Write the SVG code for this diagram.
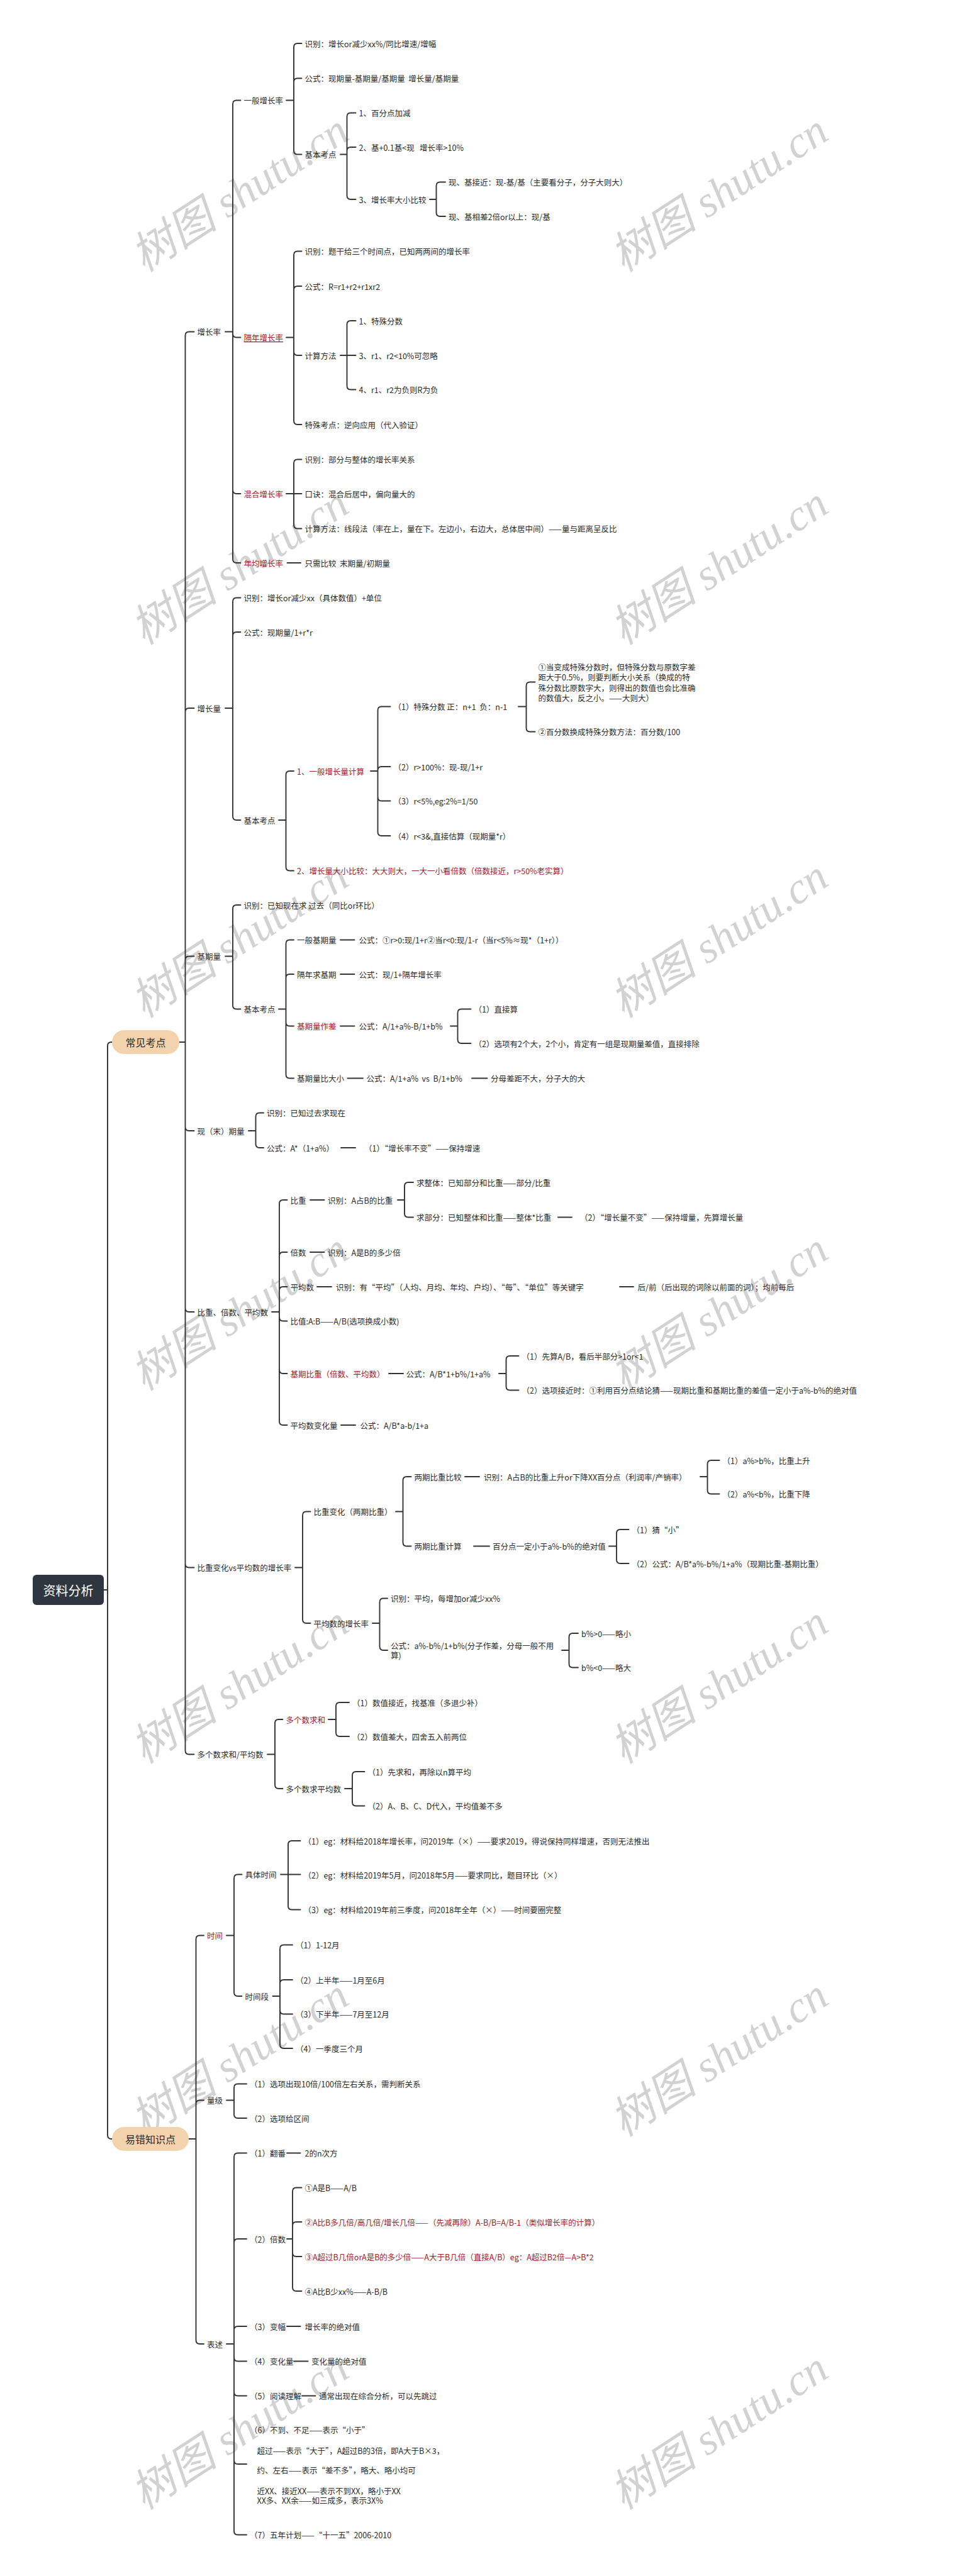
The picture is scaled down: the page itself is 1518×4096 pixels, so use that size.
<svg xmlns="http://www.w3.org/2000/svg" width="1518" height="4096" viewBox="0 0 1518 4096">
<style>
.t{font-family:"Noto Sans CJK SC","Noto Sans",sans-serif;font-size:12.5px;fill:#2b2b2b;dominant-baseline:central;white-space:pre}
.r{fill:#a3202c}
.u{text-decoration:underline}
.c{fill:none;stroke:#333;stroke-width:1.9;stroke-linecap:round}
.wm{font-family:"Liberation Serif","Noto Sans CJK SC",serif;font-style:italic;font-size:70px;fill:#d2d2d2;text-anchor:middle;dominant-baseline:central}
.pill{fill:#f2d3ad}
.pt{font-family:"Noto Sans CJK SC",sans-serif;font-size:16px;fill:#2b2b2b;text-anchor:middle;dominant-baseline:central}
</style>
<rect width="1518" height="4096" fill="#fff"/>
<g id="watermarks">
<text class="wm" transform="rotate(-33 381 307)" x="381" y="307">树图 shutu.cn</text>
<text class="wm" transform="rotate(-33 1143 307)" x="1143" y="307">树图 shutu.cn</text>
<text class="wm" transform="rotate(-33 381 900)" x="381" y="900">树图 shutu.cn</text>
<text class="wm" transform="rotate(-33 1143 900)" x="1143" y="900">树图 shutu.cn</text>
<text class="wm" transform="rotate(-33 381 1493)" x="381" y="1493">树图 shutu.cn</text>
<text class="wm" transform="rotate(-33 1143 1493)" x="1143" y="1493">树图 shutu.cn</text>
<text class="wm" transform="rotate(-33 381 2086)" x="381" y="2086">树图 shutu.cn</text>
<text class="wm" transform="rotate(-33 1143 2086)" x="1143" y="2086">树图 shutu.cn</text>
<text class="wm" transform="rotate(-33 381 2679)" x="381" y="2679">树图 shutu.cn</text>
<text class="wm" transform="rotate(-33 1143 2679)" x="1143" y="2679">树图 shutu.cn</text>
<text class="wm" transform="rotate(-33 381 3272)" x="381" y="3272">树图 shutu.cn</text>
<text class="wm" transform="rotate(-33 1143 3272)" x="1143" y="3272">树图 shutu.cn</text>
<text class="wm" transform="rotate(-33 381 3865)" x="381" y="3865">树图 shutu.cn</text>
<text class="wm" transform="rotate(-33 1143 3865)" x="1143" y="3865">树图 shutu.cn</text>
</g>
<g id="connectors" class="c">
<path d="M165 2528H171M171 2528V1663Q171 1657 177 1657H178M171 2528V3395Q171 3401 177 3401H178"/>
<path d="M285 1657H294.5M294.5 1657V533.5Q294.5 527.5 300.5 527.5H308.5M294.5 1657V1132Q294.5 1126 300.5 1126H308.5M294.5 1657V1526.5Q294.5 1520.5 300.5 1520.5H308.5M294.5 1657V1792Q294.5 1798 300.5 1798H308.5M294.5 1657V2080Q294.5 2086 300.5 2086H308.5M294.5 1657V2486.5Q294.5 2492.5 300.5 2492.5H308.5M294.5 1657V2783.5Q294.5 2789.5 300.5 2789.5H308.5"/>
<path d="M300 3401H311.5M311.5 3401V3083.5Q311.5 3077.5 317.5 3077.5H324M311.5 3401V3345.5Q311.5 3339.5 317.5 3339.5H324M311.5 3401V3721Q311.5 3727 317.5 3727H324"/>
<path d="M358 527.5H370M370 527.5V165.5Q370 159.5 376 159.5H382.5M370 527.5V530.5Q370 536.5 376 536.5H382.5M370 527.5V779Q370 785 376 785H382.5M370 527.5V889Q370 895 376 895H382.5"/>
<path d="M455 159.5H467M467 159.5V75Q467 69 473 69H479.5M467 159.5V130.5Q467 124.5 473 124.5H479.5M467 159.5V239.5Q467 245.5 473 245.5H479.5"/>
<path d="M541 245.5H551.5M551.5 245.5V185.5Q551.5 179.5 557.5 179.5H565.5M551.5 245.5V240Q551.5 234 557.5 234H565.5M551.5 245.5V311Q551.5 317 557.5 317H565.5"/>
<path d="M683 317H693.5M693.5 317V295.5Q693.5 289.5 699.5 289.5H708M693.5 317V338Q693.5 344 699.5 344H708"/>
<path d="M455 536.5H467M467 536.5V405.5Q467 399.5 473 399.5H479.5M467 536.5V461Q467 455 473 455H479.5M467 536.5V559Q467 565 473 565H479.5M467 536.5V669Q467 675 473 675H479.5"/>
<path d="M541 565H551.5M551.5 565V516Q551.5 510 557.5 510H565.5M551.5 565H565.5M551.5 565V613.5Q551.5 619.5 557.5 619.5H565.5"/>
<path d="M455 785H467M467 785V736.5Q467 730.5 473 730.5H479.5M467 785H479.5M467 785V834.5Q467 840.5 473 840.5H479.5"/>
<path d="M456.5 895H478"/>
<path d="M358 1126H370M370 1126V956.5Q370 950.5 376 950.5H382.5M370 1126V1011Q370 1005 376 1005H382.5M370 1126V1298Q370 1304 376 1304H382.5"/>
<path d="M443 1304H454.5M454.5 1304V1232Q454.5 1226 460.5 1226H467M454.5 1304V1378.5Q454.5 1384.5 460.5 1384.5H467"/>
<path d="M589 1226H600.5M600.5 1226V1129.5Q600.5 1123.5 606.5 1123.5H620.5M600.5 1226V1225Q600.5 1219 606.5 1219H620.5M600.5 1226V1267.5Q600.5 1273.5 606.5 1273.5H620.5M600.5 1226V1323Q600.5 1329 606.5 1329H620.5"/>
<path d="M824 1123.5H836.5M836.5 1123.5V1090.5Q836.5 1084.5 842.5 1084.5H850.5M836.5 1123.5V1157.5Q836.5 1163.5 842.5 1163.5H850.5"/>
<path d="M358 1520.5H370M370 1520.5V1445Q370 1439 376 1439H382.5M370 1520.5V1598.5Q370 1604.5 376 1604.5H382.5"/>
<path d="M443 1604.5H454.5M454.5 1604.5V1500.5Q454.5 1494.5 460.5 1494.5H467M454.5 1604.5V1555Q454.5 1549 460.5 1549H467M454.5 1604.5V1625.5Q454.5 1631.5 460.5 1631.5H467M454.5 1604.5V1708.5Q454.5 1714.5 460.5 1714.5H467"/>
<path d="M541 1494.5H563.5M541 1549H563.5M541 1631.5H563.5"/>
<path d="M716 1631.5H727.5M727.5 1631.5V1610.5Q727.5 1604.5 733.5 1604.5H748.5M727.5 1631.5V1653Q727.5 1659 733.5 1659H748.5"/>
<path d="M552.5 1714.5H577M750 1714.5H774.5"/>
<path d="M395 1798H406.5M406.5 1798V1775.5Q406.5 1769.5 412.5 1769.5H419M406.5 1798V1819Q406.5 1825 412.5 1825H419"/>
<path d="M542 1825H565"/>
<path d="M432 2086H444M444 2086V1914Q444 1908 450 1908H456.5M444 2086V1997Q444 1991 450 1991H456.5M444 2086V2052Q444 2046 450 2046H456.5M444 2086V2094.5Q444 2100.5 450 2100.5H456.5M444 2086V2178Q444 2184 450 2184H456.5M444 2086V2260Q444 2266 450 2266H456.5"/>
<path d="M493 1908H515.5M493 1991H515.5M504 2046H527M985 2046H1007M618 2184H641M542 2266H565M887 1935.5H909"/>
<path d="M632 1908H643M643 1908V1886Q643 1880 649 1880H657M643 1908V1929.5Q643 1935.5 649 1935.5H657"/>
<path d="M793 2184H804.5M804.5 2184V2162Q804.5 2156 810.5 2156H824.5M804.5 2184V2204.5Q804.5 2210.5 810.5 2210.5H824.5"/>
<path d="M469 2492.5H481M481 2492.5V2409.5Q481 2403.5 487 2403.5H493.5M481 2492.5V2575Q481 2581 487 2581H493.5"/>
<path d="M629 2403.5H640.5M640.5 2403.5V2354Q640.5 2348 646.5 2348H653.5M640.5 2403.5V2452.5Q640.5 2458.5 646.5 2458.5H653.5"/>
<path d="M739 2348H762M753 2458.5H778"/>
<path d="M1113 2348H1124.5M1124.5 2348V2328Q1124.5 2322 1130.5 2322H1143.5M1124.5 2348V2369.5Q1124.5 2375.5 1130.5 2375.5H1143.5"/>
<path d="M968 2458.5H980M980 2458.5V2438Q980 2432 986 2432H999.5M980 2458.5V2480Q980 2486 986 2486H999.5"/>
<path d="M592 2581H603.5M603.5 2581V2547.5Q603.5 2541.5 609.5 2541.5H616M603.5 2581V2618Q603.5 2624 609.5 2624H616"/>
<path d="M893 2624H904.5M904.5 2624V2603Q904.5 2597 910.5 2597H919M904.5 2624V2645.5Q904.5 2651.5 910.5 2651.5H919"/>
<path d="M425 2789.5H437M437 2789.5V2740Q437 2734 443 2734H449.5M437 2789.5V2838Q437 2844 443 2844H449.5"/>
<path d="M522 2734H534M534 2734V2713Q534 2707 540 2707H555M534 2734V2755Q534 2761 540 2761H555"/>
<path d="M548 2844H560M560 2844V2823Q560 2817 566 2817H579.5M560 2844V2865.5Q560 2871.5 566 2871.5H579.5"/>
<path d="M360 3077.5H372M372 3077.5V2986.5Q372 2980.5 378 2980.5H384.5M372 3077.5V3168Q372 3174 378 3174H384.5"/>
<path d="M446 2980.5H458M458 2980.5V2933Q458 2927 464 2927H477.5M458 2980.5H477.5M458 2980.5V3030.5Q458 3036.5 464 3036.5H477.5"/>
<path d="M433.5 3174H445M445 3174V3098.5Q445 3092.5 451 3092.5H465M445 3174V3154Q445 3148 451 3148H465M445 3174V3196.5Q445 3202.5 451 3202.5H465M445 3174V3251Q445 3257 451 3257H465"/>
<path d="M360 3339.5H372M372 3339.5V3319.5Q372 3313.5 378 3313.5H392M372 3339.5V3362Q372 3368 378 3368H392"/>
<path d="M360 3727H372M372 3727V3429.5Q372 3423.5 378 3423.5H392M372 3727V3566Q372 3560 378 3560H392M372 3727V3705Q372 3699 378 3699H392M372 3727V3748.5Q372 3754.5 378 3754.5H392M372 3727V3803.5Q372 3809.5 378 3809.5H392M372 3727V3912Q372 3918 378 3918H392M372 3727V4024.5Q372 4030.5 378 4030.5H392"/>
<path d="M456 3423.5H477.5M456 3699H477.5M467 3754.5H489.5M480 3809.5H501.5"/>
<path d="M456 3560H465M465 3560V3484.5Q465 3478.5 471 3478.5H479.5M465 3560V3539Q465 3533 471 3533H479.5M465 3560V3582Q465 3588 471 3588H479.5M465 3560V3637Q465 3643 471 3643H479.5"/>
</g>
<g id="root"><rect x="52" y="2504" width="113" height="48" rx="6" fill="#2f3640"/><text x="108.5" y="2528" text-anchor="middle" dominant-baseline="central" font-family="Noto Sans CJK SC,sans-serif" font-size="20" fill="#fff">资料分析</text></g>
<g id="p1"><rect class="pill" x="178" y="1638" width="107" height="38" rx="19"/><text class="pt" x="231.5" y="1657">常见考点</text></g>
<g id="p2"><rect class="pill" x="178" y="3382" width="122" height="38" rx="19"/><text class="pt" x="239" y="3401">易错知识点</text></g>
<g id="n1"><text class="t" x="313.5" y="527.5">增长率</text></g>
<g id="n2"><text class="t" x="387.5" y="159.5">一般增长率</text></g>
<g id="n3"><text class="t" x="484.5" y="69">识别：增长or减少xx%/同比增速/增幅</text></g>
<g id="n4"><text class="t" x="484.5" y="124.5">公式：现期量-基期量/基期量  增长量/基期量</text></g>
<g id="n5"><text class="t" x="484.5" y="245.5">基本考点</text></g>
<g id="n6"><text class="t" x="570.5" y="179.5">1、百分点加减</text></g>
<g id="n7"><text class="t" x="570.5" y="234">2、基+0.1基&lt;现   增长率&gt;10%</text></g>
<g id="n8"><text class="t" x="570.5" y="317">3、增长率大小比较</text></g>
<g id="n9"><text class="t" x="713" y="289.5">现、基接近：现-基/基（主要看分子，分子大则大）</text></g>
<g id="n10"><text class="t" x="713" y="344">现、基相差2倍or以上：现/基</text></g>
<g id="n11"><text class="t r u" x="387.5" y="536.5">隔年增长率</text></g>
<g id="n12"><text class="t" x="484.5" y="399.5">识别：题干给三个时间点，已知两两间的增长率</text></g>
<g id="n13"><text class="t" x="484.5" y="455">公式：R=r1+r2+r1xr2</text></g>
<g id="n14"><text class="t" x="484.5" y="565">计算方法</text></g>
<g id="n15"><text class="t" x="570.5" y="510">1、特殊分数</text></g>
<g id="n16"><text class="t" x="570.5" y="565">3、r1、r2&lt;10%可忽略</text></g>
<g id="n17"><text class="t" x="570.5" y="619.5">4、r1、r2为负则R为负</text></g>
<g id="n18"><text class="t" x="484.5" y="675">特殊考点：逆向应用（代入验证）</text></g>
<g id="n19"><text class="t r" x="387.5" y="785">混合增长率</text></g>
<g id="n20"><text class="t" x="484.5" y="730.5">识别：部分与整体的增长率关系</text></g>
<g id="n21"><text class="t" x="484.5" y="785.5">口诀：混合后居中，偏向量大的</text></g>
<g id="n22"><text class="t" x="484.5" y="840.5">计算方法：线段法（率在上，量在下。左边小，右边大，总体居中间）——量与距离呈反比</text></g>
<g id="n23"><text class="t r" x="387.5" y="895">年均增长率</text></g>
<g id="n24"><text class="t" x="484.5" y="895">只需比较  末期量/初期量</text></g>
<g id="n25"><text class="t" x="313.5" y="1126">增长量</text></g>
<g id="n26"><text class="t" x="387.5" y="950.5">识别：增长or减少xx（具体数值）+单位</text></g>
<g id="n27"><text class="t" x="387.5" y="1005">公式：现期量/1+r*r</text></g>
<g id="n28"><text class="t" x="387.5" y="1304">基本考点</text></g>
<g id="n29"><text class="t r" x="472" y="1226">1、一般增长量计算</text></g>
<g id="n30"><text class="t" x="625.5" y="1123.5">（1）特殊分数 正：n+1  负：n-1</text></g>
<g id="n31"><text class="t" x="855.5" y="1060">①当变成特殊分数时，但特殊分数与原数字差</text><text class="t" x="855.5" y="1076.5">距大于0.5%，则要判断大小关系（换成的特</text><text class="t" x="855.5" y="1093">殊分数比原数字大，则得出的数值也会比准确</text><text class="t" x="855.5" y="1109.5">的数值大，反之小。——大则大）</text></g>
<g id="n32"><text class="t" x="855.5" y="1163.5">②百分数换成特殊分数方法：百分数/100</text></g>
<g id="n33"><text class="t" x="625.5" y="1219">（2）r&gt;100%：现-现/1+r</text></g>
<g id="n34"><text class="t" x="625.5" y="1273.5">（3）r&lt;5%,eg:2%=1/50</text></g>
<g id="n35"><text class="t" x="625.5" y="1329">（4）r&lt;3&amp;,直接估算（现期量*r）</text></g>
<g id="n36"><text class="t r" x="472" y="1384.5">2、增长量大小比较：大大则大，一大一小看倍数（倍数接近，r&gt;50%老实算）</text></g>
<g id="n37"><text class="t" x="313.5" y="1520.5">基期量</text></g>
<g id="n38"><text class="t" x="387.5" y="1439">识别：已知现在求 过去（同比or环比）</text></g>
<g id="n39"><text class="t" x="387.5" y="1604.5">基本考点</text></g>
<g id="n40"><text class="t" x="472" y="1494.5">一般基期量</text></g>
<g id="n41"><text class="t" x="570.5" y="1494.5">公式：①r&gt;0:现/1+r②当r&lt;0:现/1-r（当r&lt;5%≈现*（1+r））</text></g>
<g id="n42"><text class="t" x="472" y="1549">隔年求基期</text></g>
<g id="n43"><text class="t" x="570.5" y="1549">公式：现/1+隔年增长率</text></g>
<g id="n44"><text class="t r" x="472" y="1631.5">基期量作差</text></g>
<g id="n45"><text class="t" x="570.5" y="1631.5">公式：A/1+a%-B/1+b%</text></g>
<g id="n46"><text class="t" x="753.5" y="1604.5">（1）直接算</text></g>
<g id="n47"><text class="t" x="753.5" y="1659">（2）选项有2个大，2个小，肯定有一组是现期量差值，直接排除</text></g>
<g id="n48"><text class="t" x="472" y="1714.5">基期量比大小</text></g>
<g id="n49"><text class="t" x="582.5" y="1714.5">公式：A/1+a%  vs  B/1+b%</text></g>
<g id="n50"><text class="t" x="780" y="1714.5">分母差距不大，分子大的大</text></g>
<g id="n51"><text class="t" x="313.5" y="1798">现（末）期量</text></g>
<g id="n52"><text class="t" x="424" y="1769.5">识别：已知过去求现在</text></g>
<g id="n53"><text class="t" x="424" y="1825">公式：A*（1+a%）</text></g>
<g id="n54"><text class="t" x="579" y="1825">（1）“增长率不变”——保持增速</text></g>
<g id="n55"><text class="t" x="313.5" y="2086">比重、倍数、平均数</text></g>
<g id="n56"><text class="t" x="461.5" y="1908">比重</text></g>
<g id="n57"><text class="t" x="521" y="1908">识别：A占B的比重</text></g>
<g id="n58"><text class="t" x="662" y="1880">求整体：已知部分和比重——部分/比重</text></g>
<g id="n59"><text class="t" x="662" y="1935.5">求部分：已知整体和比重——整体*比重</text></g>
<g id="n60"><text class="t" x="922" y="1935.5">（2）“增长量不变”——保持增量，先算增长量</text></g>
<g id="n61"><text class="t" x="461.5" y="1991">倍数</text></g>
<g id="n62"><text class="t" x="521" y="1991">识别：A是B的多少倍</text></g>
<g id="n63"><text class="t" x="461.5" y="2046">平均数</text></g>
<g id="n64"><text class="t" x="534" y="2046">识别：有“平均”（人均、月均、年均、户均）、“每”、“单位”等关键字</text></g>
<g id="n65"><text class="t" x="1013.5" y="2046">后/前（后出现的词除以前面的词）；均前每后</text></g>
<g id="n66"><text class="t" x="461.5" y="2100.5">比值:A:B——A/B(选项换成小数)</text></g>
<g id="n67"><text class="t r" x="461.5" y="2184">基期比重（倍数、平均数）</text></g>
<g id="n68"><text class="t" x="645.5" y="2184">公式：A/B*1+b%/1+a%</text></g>
<g id="n69"><text class="t" x="829.5" y="2156">（1）先算A/B，看后半部分&gt;1or&lt;1</text></g>
<g id="n70"><text class="t" x="829.5" y="2210.5">（2）选项接近时：①利用百分点结论猜——现期比重和基期比重的差值一定小于a%-b%的绝对值</text></g>
<g id="n71"><text class="t" x="461.5" y="2266">平均数变化量</text></g>
<g id="n72"><text class="t" x="572.5" y="2266">公式：A/B*a-b/1+a</text></g>
<g id="n73"><text class="t" x="313.5" y="2492.5">比重变化vs平均数的增长率</text></g>
<g id="n74"><text class="t" x="498.5" y="2403.5">比重变化（两期比重）</text></g>
<g id="n75"><text class="t" x="658.5" y="2348">两期比重比较</text></g>
<g id="n76"><text class="t" x="769" y="2348">识别：A占B的比重上升or下降XX百分点（利润率/产销率）</text></g>
<g id="n77"><text class="t" x="1148.5" y="2322">（1）a%&gt;b%，比重上升</text></g>
<g id="n78"><text class="t" x="1148.5" y="2375.5">（2）a%&lt;b%，比重下降</text></g>
<g id="n79"><text class="t" x="658.5" y="2458.5">两期比重计算</text></g>
<g id="n80"><text class="t" x="783" y="2458.5">百分点一定小于a%-b%的绝对值</text></g>
<g id="n81"><text class="t" x="1004.5" y="2432">（1）猜“小”</text></g>
<g id="n82"><text class="t" x="1004.5" y="2486">（2）公式：A/B*a%-b%/1+a%（现期比重-基期比重）</text></g>
<g id="n83"><text class="t" x="498.5" y="2581">平均数的增长率</text></g>
<g id="n84"><text class="t" x="621" y="2541.5">识别：平均，每增加or减少xx%</text></g>
<g id="n85"><text class="t" x="621" y="2616.5">公式：a%-b%/1+b%(分子作差，分母一般不用</text><text class="t" x="621" y="2631.5">算)</text></g>
<g id="n86"><text class="t" x="924" y="2597">b%&gt;0——略小</text></g>
<g id="n87"><text class="t" x="924" y="2651.5">b%&lt;0——略大</text></g>
<g id="n88"><text class="t" x="313.5" y="2789.5">多个数求和/平均数</text></g>
<g id="n89"><text class="t r" x="454.5" y="2734">多个数求和</text></g>
<g id="n90"><text class="t" x="560" y="2707">（1）数值接近，找基准（多退少补）</text></g>
<g id="n91"><text class="t" x="560" y="2761">（2）数值差大，四舍五入前两位</text></g>
<g id="n92"><text class="t" x="454.5" y="2844">多个数求平均数</text></g>
<g id="n93"><text class="t" x="584.5" y="2817">（1）先求和，再除以n算平均</text></g>
<g id="n94"><text class="t" x="584.5" y="2871.5">（2）A、B、C、D代入，平均值差不多</text></g>
<g id="n95"><text class="t r" x="329" y="3077.5">时间</text></g>
<g id="n96"><text class="t" x="389.5" y="2980.5">具体时间</text></g>
<g id="n97"><text class="t" x="482.5" y="2927">（1）eg：材料给2018年增长率，问2019年（×）——要求2019，得说保持同样增速，否则无法推出</text></g>
<g id="n98"><text class="t" x="482.5" y="2981">（2）eg：材料给2019年5月，问2018年5月——要求同比，题目环比（×）</text></g>
<g id="n99"><text class="t" x="482.5" y="3036.5">（3）eg：材料给2019年前三季度，问2018年全年（×）——时间要圈完整</text></g>
<g id="n100"><text class="t" x="389.5" y="3174">时间段</text></g>
<g id="n101"><text class="t" x="470" y="3092.5">（1）1-12月</text></g>
<g id="n102"><text class="t" x="470" y="3148">（2）上半年——1月至6月</text></g>
<g id="n103"><text class="t" x="470" y="3202.5">（3）下半年——7月至12月</text></g>
<g id="n104"><text class="t" x="470" y="3257">（4）一季度三个月</text></g>
<g id="n105"><text class="t" x="329" y="3339.5">量级</text></g>
<g id="n106"><text class="t" x="397" y="3313.5">（1）选项出现10倍/100倍左右关系，需判断关系</text></g>
<g id="n107"><text class="t" x="397" y="3368">（2）选项给区间</text></g>
<g id="n108"><text class="t" x="329" y="3727">表述</text></g>
<g id="n109"><text class="t" x="397" y="3423.5">（1）翻番</text></g>
<g id="n110"><text class="t" x="484.5" y="3423.5">2的n次方</text></g>
<g id="n111"><text class="t" x="397" y="3560">（2）倍数</text></g>
<g id="n112"><text class="t" x="484.5" y="3478.5">①A是B——A/B</text></g>
<g id="n113"><text class="t r" x="484.5" y="3533">②A比B多几倍/高几倍/增长几倍——（先减再除）A-B/B=A/B-1（类似增长率的计算）</text></g>
<g id="n114"><text class="t r" x="484.5" y="3588">③A超过B几倍orA是B的多少倍——A大于B几倍（直接A/B）eg：A超过B2倍—A&gt;B*2</text></g>
<g id="n115"><text class="t" x="484.5" y="3643">④A比B少xx%——A-B/B</text></g>
<g id="n116"><text class="t" x="397" y="3699">（3）变幅</text></g>
<g id="n117"><text class="t" x="484.5" y="3699">增长率的绝对值</text></g>
<g id="n118"><text class="t" x="397" y="3754.5">（4）变化量</text></g>
<g id="n119"><text class="t" x="495" y="3754.5">变化量的绝对值</text></g>
<g id="n120"><text class="t" x="397" y="3809.5">（5）阅读理解</text></g>
<g id="n121"><text class="t" x="507" y="3809.5">通常出现在综合分析，可以先跳过</text></g>
<g id="n122"><text class="t" x="397" y="3863">（6）不到、不足——表示“小于”</text><text class="t" x="408.5" y="3896.5">超过——表示“大于”，A超过B的3倍，即A大于B×3，</text><text class="t" x="408.5" y="3927.5">约、左右——表示“差不多”，略大、略小均可</text><text class="t" x="408.5" y="3960">近XX、接近XX——表示不到XX，略小于XX</text><text class="t" x="408.5" y="3975">XX多、XX余——如三成多，表示3X%</text></g>
<g id="n123"><text class="t" x="397" y="4030.5">（7）五年计划——“十一五”2006-2010</text></g>
</svg>
